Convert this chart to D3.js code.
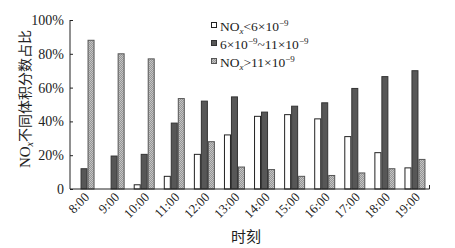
<!DOCTYPE html>
<html><head><meta charset="utf-8">
<script src="https://cdn.jsdelivr.net/npm/d3@7"></script>
<style>body{margin:0;background:#fff}</style>
</head><body>
<svg id="c" width="455" height="248"></svg>
<script>
const categories = ["8:00","9:00","10:00","11:00","12:00","13:00","14:00","15:00","16:00","17:00","18:00","19:00"];
const lowValues  = [0, 0, 2.5, 7.5, 20.5, 32, 43, 44, 41.5, 31, 21.5, 12.5];
const midValues  = [12, 19.5, 20.5, 39, 52, 54.5, 45.5, 49, 51, 59.5, 66.5, 70];
const highValues = [88, 80, 77, 53.5, 28, 13, 11.5, 7.5, 8, 9.5, 12, 17.5];
const yTicks = [0, 20, 40, 60, 80, 100];

const svg = d3.select("#c");
const serif = "'Liberation Serif','Times New Roman',serif";
const defs = svg.append("defs");
const pat = defs.append("pattern").attr("id","hatch").attr("patternUnits","userSpaceOnUse")
  .attr("width",2).attr("height",2);
pat.append("rect").attr("width",2).attr("height",2).attr("fill","#c4c4c4");
pat.append("path").attr("d","M0,2L2,0").attr("stroke","#8a8a8a").attr("stroke-width",0.8);

const x = d3.scaleBand().domain(categories).range([69, 430]).padding(0);
const y = d3.scaleLinear().domain([0,100]).range([189, 20]);
const bw = 7;

const series = [
  {vals: lowValues, fill:"#fff", stroke:"#222"},
  {vals: midValues, fill:"#575757", stroke:"#333"},
  {vals: highValues, fill:"url(#hatch)", stroke:"#555"}
];
series.forEach((s, si) => {
  svg.append("g").selectAll("rect").data(categories).join("rect")
    .attr("x", c => x(c) + x.bandwidth()/2 - 1.5*bw + si*bw + 0.5)
    .attr("y", (c,i) => y(s.vals[i]))
    .attr("width", bw - 1)
    .attr("height", (c,i) => Math.max(0, y(0) - y(s.vals[i])))
    .attr("fill", s.fill).attr("stroke", s.stroke).attr("stroke-width", 1)
    .attr("visibility", (c,i) => s.vals[i] > 0 ? "visible" : "hidden");
});

// y axis
const yAxis = d3.axisLeft(y).tickValues(yTicks).tickSize(-3).tickPadding(6)
  .tickFormat(d => d === 0 ? "0" : d + "%");
const gy = svg.append("g").attr("transform","translate(70,0)").call(yAxis);
gy.select(".domain").attr("d","M0,20V189").attr("stroke","#222");
gy.selectAll(".tick line").attr("stroke","#222");
gy.selectAll("text").attr("font-family",serif).attr("font-size",14).attr("fill","#222");

// x axis
const xAxis = d3.axisBottom(x).tickSize(0).tickPadding(0);
const gx = svg.append("g").attr("transform","translate(0,189)").call(xAxis);
gx.select(".domain").attr("d","M70,0H429.5V-4").attr("stroke","#222").attr("fill","none");
gx.selectAll(".tick text")
  .attr("font-family",serif).attr("font-size",13).attr("fill","#222")
  .attr("text-anchor","end").attr("dy",0)
  .attr("transform","translate(6,9) rotate(-45)");

// labels
svg.append("text").attr("transform","translate(30,99) rotate(-90)")
  .attr("text-anchor","middle").attr("font-size",15).attr("fill","#222")
  .attr("font-family",serif)
  .html("NO<tspan font-size='10' font-style='italic' dy='3'>x</tspan><tspan dy='-3' font-family=\"'Noto Sans CJK SC'\" font-size='14'>不同体积分数占比</tspan>");
svg.append("text").attr("x",246).attr("y",242).attr("text-anchor","middle")
  .attr("font-family","'Noto Sans CJK SC'").attr("font-size",15).attr("fill","#222").text("时刻");

// legend
const leg = [
  {fill:"#fff", stroke:"#222", html:"NO<tspan font-size='9' font-style='italic' dy='3'>x</tspan><tspan dy='-3'>&lt;6×10</tspan><tspan font-size='9' dy='-5'>−9</tspan>"},
  {fill:"#575757", stroke:"#333", html:"6×10<tspan font-size='9' dy='-5'>−9</tspan><tspan dy='5'>~11×10</tspan><tspan font-size='9' dy='-5'>−9</tspan>"},
  {fill:"url(#hatch)", stroke:"#555", html:"NO<tspan font-size='9' font-style='italic' dy='3'>x</tspan><tspan dy='-3'>&gt;11×10</tspan><tspan font-size='9' dy='-5'>−9</tspan>"}
];
const lg = svg.append("g");
leg.forEach((l,i) => {
  const yy = 26 + i*18;
  lg.append("rect").attr("x",211.5).attr("y",yy-3.5).attr("width",5).attr("height",5)
    .attr("fill",l.fill).attr("stroke",l.stroke);
  lg.append("text").attr("x",220).attr("y",yy+4.5).attr("font-family",serif)
    .attr("font-size",13.5).attr("fill","#222").html(l.html);
});
</script>
</body></html>
